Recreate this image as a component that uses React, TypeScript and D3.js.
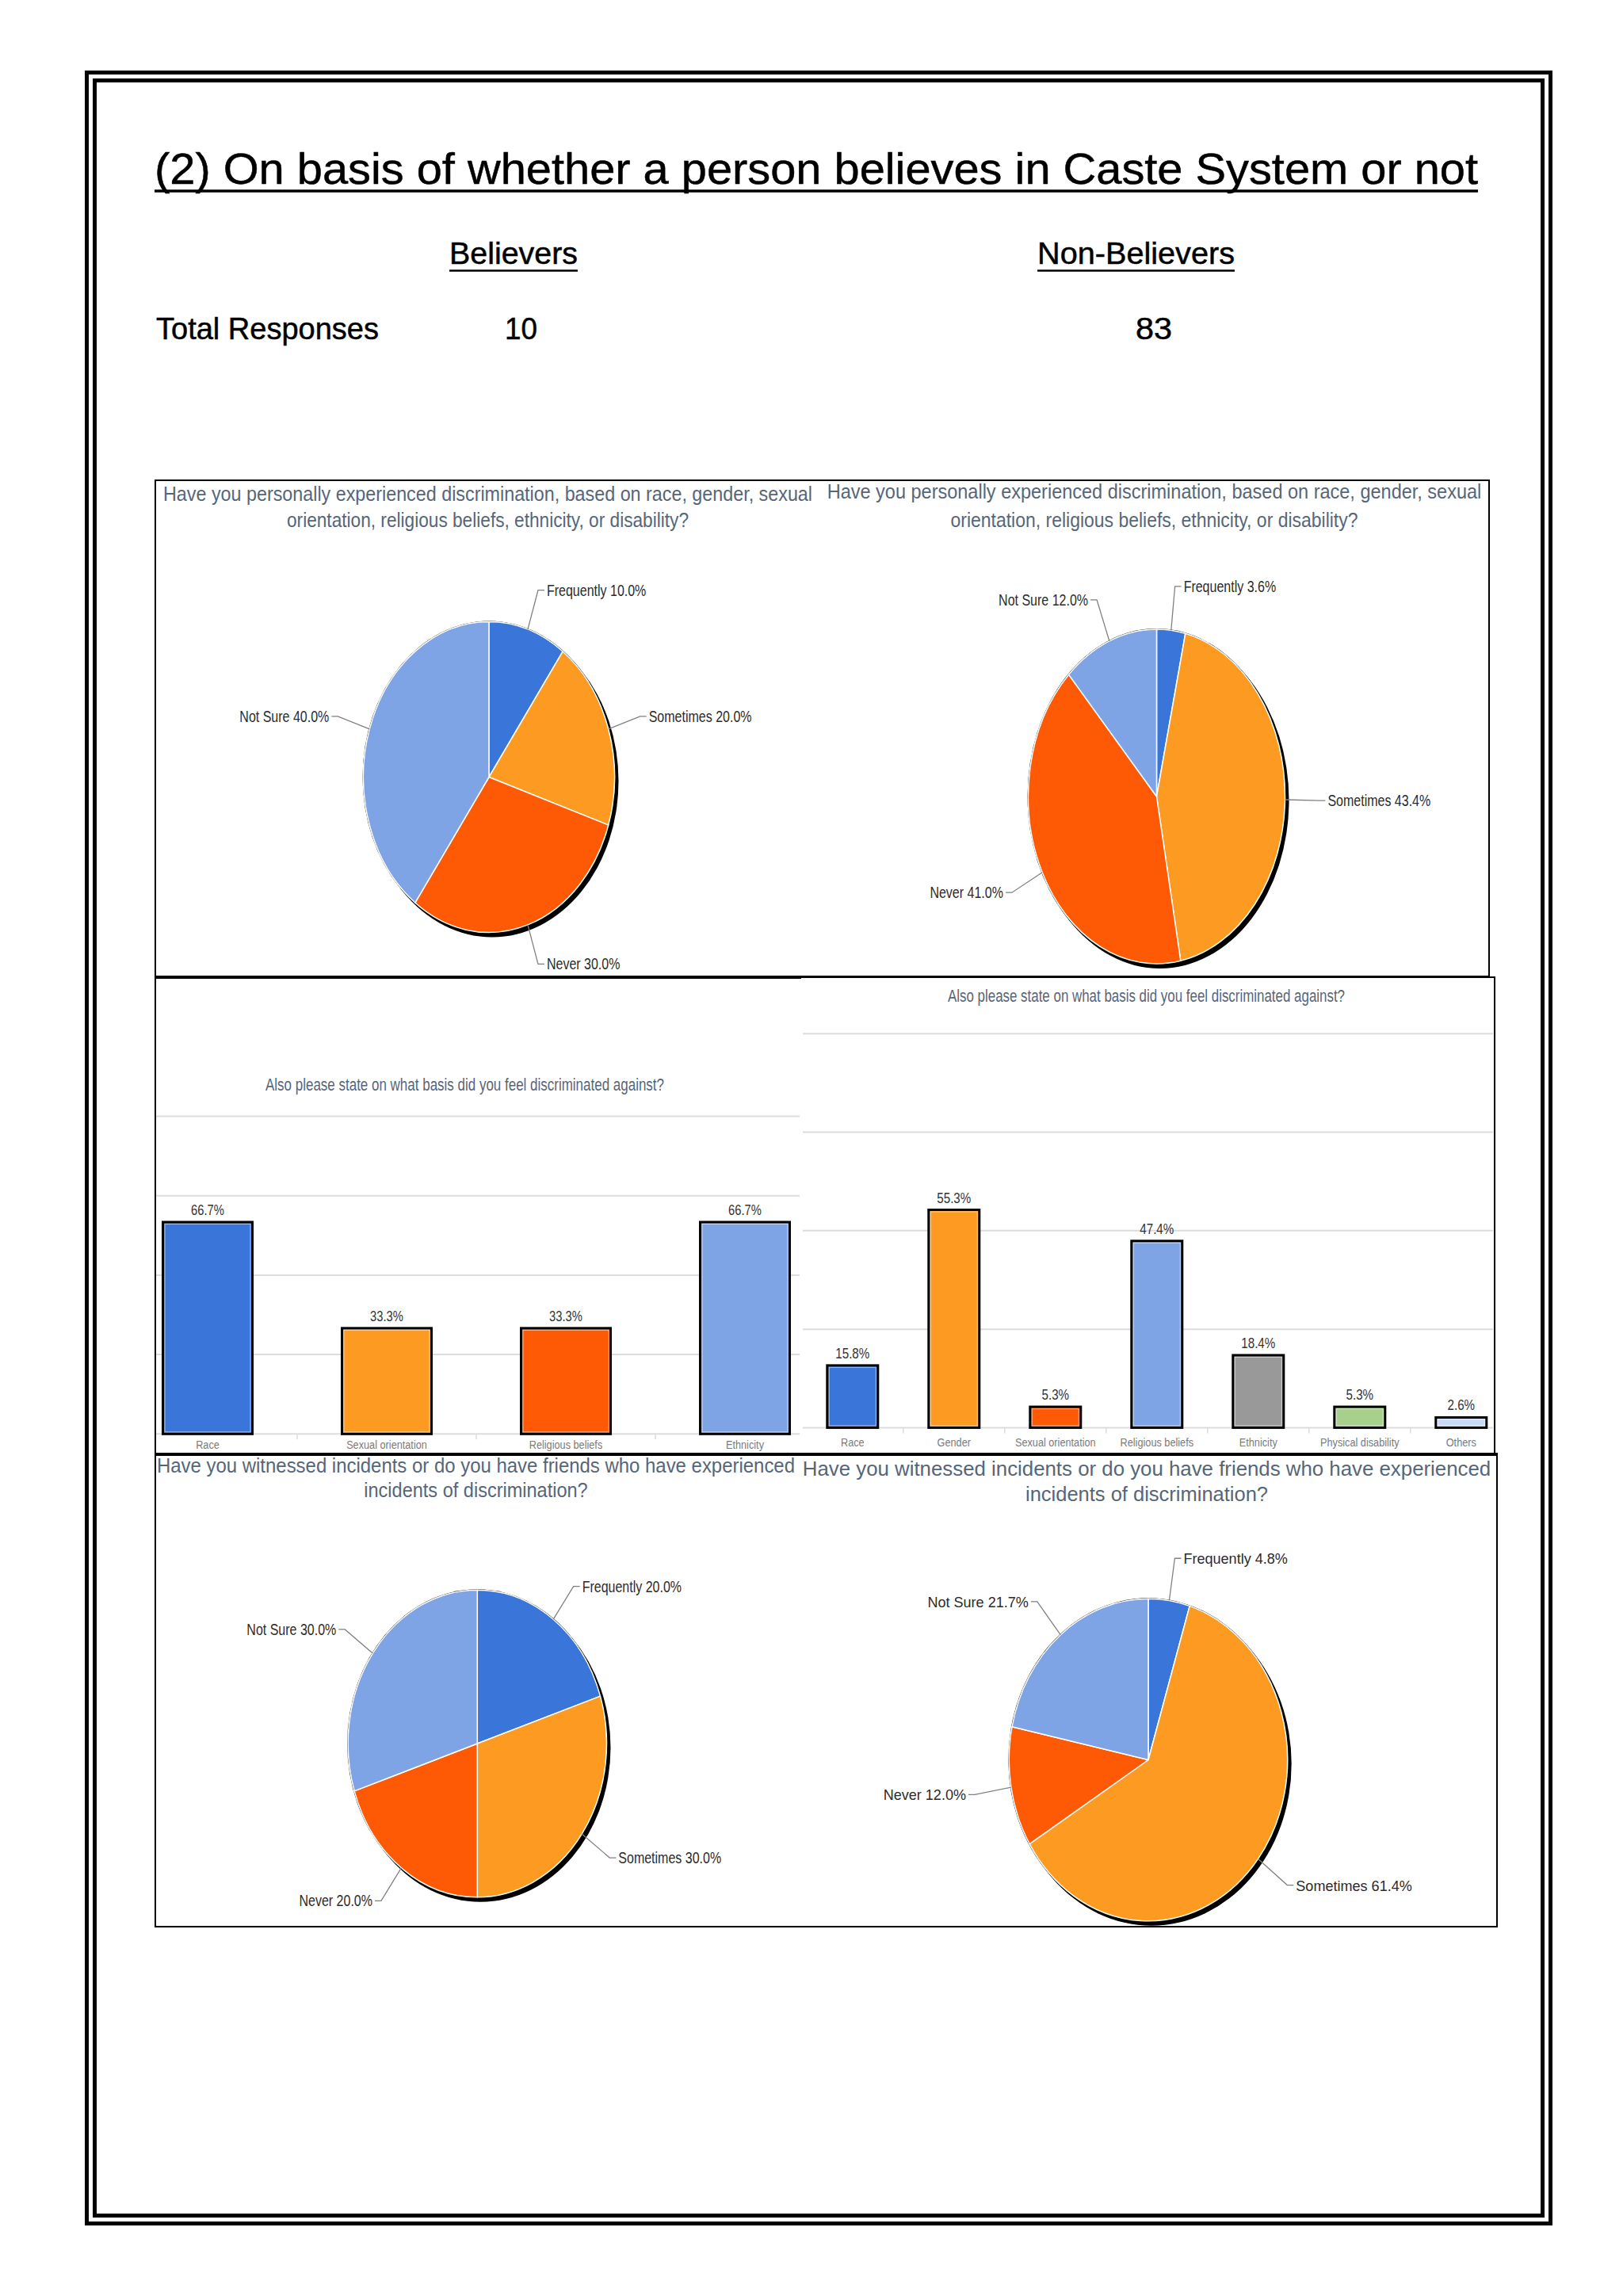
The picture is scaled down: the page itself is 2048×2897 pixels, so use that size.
import React from 'react';
import * as d3 from 'd3';

// ---------- data ----------
const pageTitle = '(2) On basis of whether a person believes in Caste System or not';
const groupLabels = ['Believers', 'Non-Believers'];
const totalLabel = 'Total Responses';
const totalResponses = [10, 83];

const pieCategories = ['Frequently', 'Sometimes', 'Never', 'Not Sure'];
const believersExperienced = [10.0, 20.0, 30.0, 40.0];
const nonBelieversExperienced = [3.6, 43.4, 41.0, 12.0];
const believersWitnessed = [20.0, 30.0, 20.0, 30.0];
const nonBelieversWitnessed = [4.8, 61.4, 12.0, 21.7];

const experiencedTitle = [
  'Have you personally experienced discrimination, based on race, gender, sexual',
  'orientation, religious beliefs, ethnicity, or disability?',
];
const witnessedTitle = [
  'Have you witnessed incidents or do you have friends who have experienced',
  'incidents of discrimination?',
];
const basisTitle = 'Also please state on what basis did you feel discriminated against?';

const believersBasisCategories = ['Race', 'Sexual orientation', 'Religious beliefs', 'Ethnicity'];
const believersBasisValues = [66.7, 33.3, 33.3, 66.7];
const nonBelieversBasisCategories = [
  'Race', 'Gender', 'Sexual orientation', 'Religious beliefs', 'Ethnicity', 'Physical disability', 'Others',
];
const nonBelieversBasisValues = [15.8, 55.3, 5.3, 47.4, 18.4, 5.3, 2.6];
const gridTicks = [0, 25, 50, 75, 100];

// ---------- styles ----------
const palette = ['#3a75d9', '#fd9a21', '#fe5a05', '#7ea4e5', '#9a999a', '#a8d08d', '#c9daf8'];
const NARROW = "'Liberation Sans Narrow', 'Arial Narrow', 'Liberation Sans', Arial, sans-serif";
const TITLE_COLOR = '#56667a';

// Arial-like advance widths (per 1000 em), used to size condensed text
const W: Record<string, number> = {
  ' ': 278, '!': 278, '%': 889, '(': 333, ')': 333, ',': 278, '-': 333, '.': 278, '/': 278, '?': 556,
  A: 667, B: 667, C: 722, D: 722, E: 667, F: 611, G: 778, H: 722, I: 278, J: 500, K: 667, L: 556, M: 833,
  N: 722, O: 778, P: 667, Q: 778, R: 722, S: 667, T: 611, U: 722, V: 667, W: 944, X: 667, Y: 667, Z: 611,
  a: 556, b: 556, c: 500, d: 556, e: 556, f: 278, g: 556, h: 556, i: 222, j: 222, k: 500, l: 222, m: 833,
  n: 556, o: 556, p: 556, q: 556, r: 333, s: 500, t: 278, u: 556, v: 500, w: 722, x: 500, y: 500, z: 500,
};
function textWidth(s: string, size: number, condense: number) {
  let t = 0;
  for (const ch of s) t += W[ch] ?? 556;
  return (t / 1000) * size * condense;
}

type TProps = {
  x: number; y: number; text: string; size: number; anchor?: string; fill: string;
  condense?: number; width?: number;
};
function T({ x, y, text, size, anchor = 'start', fill, condense = 0.82, width }: TProps) {
  const w = width ?? textWidth(text, size, condense);
  return (
    <text x={x} y={y} textAnchor={anchor} fontFamily={NARROW} fontSize={size} fill={fill}
      textLength={w} lengthAdjust="spacingAndGlyphs">{text}</text>
  );
}

type PieProps = {
  values: number[];
  cx: number; cy: number; rx: number; ry: number;
  title: string[];
  titleX: number; titleY: number[]; titleW: number[]; titleSize: number;
  labelSize: number; labelCondense: number;
};

function Pie({ values, cx, cy, rx, ry, title, titleX, titleY, titleW, titleSize, labelSize, labelCondense }: PieProps) {
  const pie = d3.pie<number>().sort(null).value((d) => d);
  const arcs = pie(values);
  const arc = d3.arc<d3.PieArcDatum<number>>().innerRadius(0).outerRadius(1);
  return (
    <g>
      {title.map((t, i) => (
        <T key={i} x={titleX} y={titleY[i]} anchor="middle" size={titleSize} fill={TITLE_COLOR} text={t} width={titleW[i]} />
      ))}
      <ellipse cx={cx + 4} cy={cy + 5} rx={rx + 1} ry={ry + 1} fill="#000" />
      <ellipse cx={cx} cy={cy} rx={rx + 1} ry={ry + 1} fill="#000" />
      <g transform={`translate(${cx},${cy}) scale(${rx},${ry})`}>
        {arcs.map((a, i) => (
          <path key={i} d={arc(a) || ''} fill={palette[i]} stroke="#fff" strokeWidth={1.5}
            vectorEffect="non-scaling-stroke" strokeLinejoin="round" />
        ))}
      </g>
      {arcs.map((a, i) => {
        const m = (a.startAngle + a.endAngle) / 2;
        const s = Math.sin(m), c = Math.cos(m);
        const ex = cx + rx * s, ey = cy - ry * c;
        const bx = cx + rx * 1.265 * s, by = cy - ry * 1.265 * c;
        const right = s >= 0;
        const tx = right ? bx + 8 : bx - 8;
        const label = `${pieCategories[i]} ${a.data.toFixed(1)}%`;
        return (
          <g key={i}>
            <polyline points={`${ex},${ey} ${bx},${by} ${tx},${by}`} fill="none" stroke="#808080" strokeWidth={1.3} />
            <T x={right ? bx + 11 : bx - 11} y={by + 7} anchor={right ? 'start' : 'end'}
              size={labelSize} condense={labelCondense} fill="#2b2b2b" text={label} />
          </g>
        );
      })}
    </g>
  );
}

type BarProps = {
  cats: string[]; values: number[];
  x0: number; x1: number; yBase: number; yTop: number;
  gridX0: number; gridX1: number;
  titleX: number; titleY: number; titleW: number;
  valueSize: number; catY: number;
};

function Bars({ cats, values, x0, x1, yBase, yTop, gridX0, gridX1, titleX, titleY, titleW, valueSize, catY }: BarProps) {
  const pad = 0.5;
  const x = d3.scaleBand<string>().domain(cats).range([x0, x1]).paddingInner(pad).paddingOuter(pad / 2);
  const y = d3.scaleLinear().domain([0, 100]).range([yBase, yTop]);
  const step = x.step();
  return (
    <g>
      <T x={titleX} y={titleY} anchor="middle" size={22} fill={TITLE_COLOR} text={basisTitle} width={titleW} />
      {gridTicks.map((t) => (
        <line key={t} x1={gridX0} x2={gridX1} y1={y(t)} y2={y(t)} stroke="#dcdcdc" strokeWidth={2} />
      ))}
      {cats.slice(1).map((c) => {
        const bx = (x(c) as number) - (step - x.bandwidth()) / 2;
        return <line key={c} x1={bx} x2={bx} y1={yBase} y2={yBase + 7} stroke="#dcdcdc" strokeWidth={1.5} />;
      })}
      {cats.map((c, i) => {
        const bx = x(c) as number;
        const w = x.bandwidth();
        const top = y(values[i]);
        return (
          <g key={c}>
            <rect x={bx} y={top} width={w} height={yBase - top} fill={palette[i]} stroke="#000" strokeWidth={3} />
            <rect x={bx + 2.5} y={top + 2.5} width={Math.max(0, w - 5)} height={Math.max(0, yBase - top - 5)}
              fill="none" stroke="#ffffff" strokeOpacity={0.55} strokeWidth={1} />
            <T x={bx + w / 2} y={top - 9} anchor="middle" size={valueSize} fill="#333" text={`${values[i].toFixed(1)}%`} />
            <T x={bx + w / 2} y={catY} anchor="middle" size={15.5} fill="#7a7a7a" text={c} />
          </g>
        );
      })}
    </g>
  );
}

export default function App() {
  const headFont = "'Comic Sans MS', " + NARROW;
  const head = (x: number, y: number, s: string, size: number, w: number) => (
    <text x={x} y={y} fontFamily={headFont} fontSize={size} fill="#000" stroke="#000" strokeWidth={0.5}
      textLength={w} lengthAdjust="spacingAndGlyphs">{s}</text>
  );
  return (
    <svg width={2048} height={2897} viewBox="0 0 2048 2897"
      style={{ position: 'absolute', left: 0, top: 0, display: 'block', background: '#fff' }}>
      <rect x={0} y={0} width={2048} height={2897} fill="#fff" />
      {/* page frame */}
      <rect x={109.5} y={91.5} width={1847} height={2714} fill="none" stroke="#000" strokeWidth={5} />
      <rect x={119.5} y={101.5} width={1827} height={2694} fill="none" stroke="#000" strokeWidth={5} />

      {/* header */}
      {head(195, 232, pageTitle, 56, 1670)}
      <line x1={195} x2={1865} y1={241} y2={241} stroke="#000" strokeWidth={3.5} />
      {head(567, 333, groupLabels[0], 38, 162)}
      <line x1={567} x2={729} y1={341.5} y2={341.5} stroke="#000" strokeWidth={2.7} />
      {head(1309, 333, groupLabels[1], 38, 249)}
      <line x1={1309} x2={1558} y1={341.5} y2={341.5} stroke="#000" strokeWidth={2.7} />
      {head(197, 428, totalLabel, 38, 281)}
      {head(637, 428, String(totalResponses[0]), 38, 41)}
      {head(1433, 428, String(totalResponses[1]), 38, 46)}

      {/* top row: personally experienced */}
      <Pie values={believersExperienced} cx={617} cy={980.5} rx={158.5} ry={196}
        title={experiencedTitle} titleX={615.5} titleY={[631.5, 664.6]} titleW={[819, 507]} titleSize={25}
        labelSize={20} labelCondense={0.8} />
      <Pie values={nonBelieversExperienced} cx={1459.5} cy={1005} rx={162} ry={211}
        title={experiencedTitle} titleX={1456.5} titleY={[629.4, 664.6]} titleW={[825.6, 514]} titleSize={25}
        labelSize={20} labelCondense={0.8} />

      {/* middle row: basis */}
      <Bars cats={believersBasisCategories} values={believersBasisValues}
        x0={149} x1={1053} yBase={1809.3} yTop={1408.5} gridX0={197} gridX1={1009}
        titleX={586.5} titleY={1376} titleW={503} valueSize={18} catY={1828} />
      <Bars cats={nonBelieversBasisCategories} values={nonBelieversBasisValues}
        x0={1011.8} x1={1907.8} yBase={1801.4} yTop={1304.3} gridX0={1013} gridX1={1884}
        titleX={1446.5} titleY={1263.6} titleW={501} valueSize={18.5} catY={1825} />

      {/* bottom row: witnessed */}
      <Pie values={believersWitnessed} cx={602.3} cy={2200} rx={163.2} ry={193.8}
        title={witnessedTitle} titleX={600.5} titleY={[1857.6, 1889.2]} titleW={[805, 282.4]} titleSize={26}
        labelSize={20} labelCondense={0.8} />
      <Pie values={nonBelieversWitnessed} cx={1449} cy={2220.5} rx={175.7} ry={203.3}
        title={witnessedTitle} titleX={1447} titleY={[1861.5, 1894.3]} titleW={[868.4, 306]} titleSize={26.5}
        labelSize={19} labelCondense={0.95} />

      {/* panel borders */}
      <rect x={196} y={606} width={1683} height={626} fill="none" stroke="#000" strokeWidth={2} />
      <line x1={195} x2={1011} y1={1233} y2={1233} stroke="#000" strokeWidth={4} />
      <line x1={1011} x2={1887} y1={1233} y2={1233} stroke="#000" strokeWidth={2} />
      <line x1={1886} x2={1886} y1={1232} y2={1835} stroke="#000" strokeWidth={2} />
      <line x1={196} x2={196} y1={1232} y2={2432} stroke="#000" strokeWidth={2} />
      <line x1={195} x2={1890} y1={1835} y2={1835} stroke="#000" strokeWidth={4} />
      <line x1={1889} x2={1889} y1={1835} y2={2432} stroke="#000" strokeWidth={2} />
      <line x1={195} x2={1890} y1={2431} y2={2431} stroke="#000" strokeWidth={2} />
    </svg>
  );
}
